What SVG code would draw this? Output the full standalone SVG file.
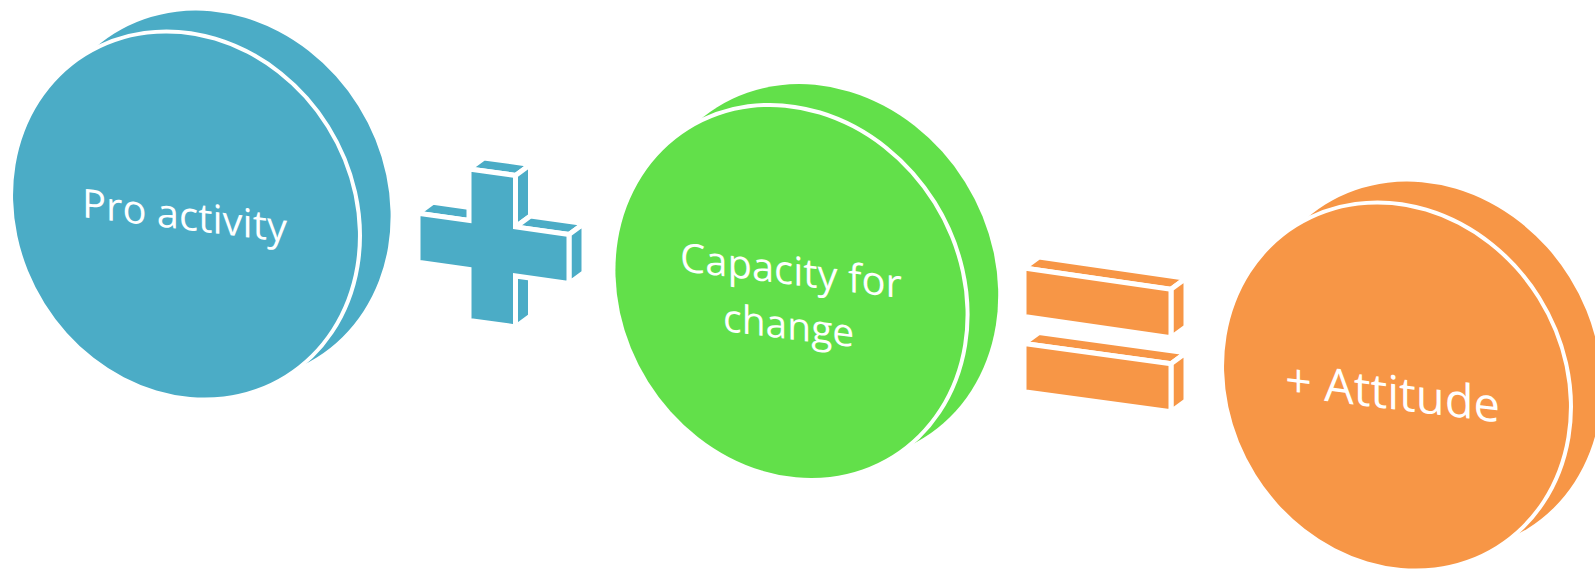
<svg xmlns="http://www.w3.org/2000/svg" width="1595" height="572" viewBox="0 0 1595 572">
<style>
.blue{fill:#4BACC6}
.green{fill:#62E04A}
.orange{fill:#F79646}
.front{stroke:#FFFFFF;stroke-width:8;paint-order:stroke}
.face{stroke:#FFFFFF;stroke-width:5;stroke-linejoin:miter}
.label{font-family:"Open Sans","Noto Sans","Liberation Sans",sans-serif;font-style:normal;font-weight:400;fill:#FFFFFF}
</style>
<rect width="1595" height="572" fill="#FFFFFF"/>
<g id="node-proactivity">
<ellipse class="blue" rx="191" ry="168.5" transform="translate(215.5,195.5) rotate(58)"/>
<ellipse class="blue front" rx="188" ry="166" transform="translate(185.5,215.5) rotate(58)"/>
<text class="label" x="0" y="0" font-size="40" transform="translate(82 217) skewY(7)">Pro activity</text>
</g>
<g id="op-plus" class="blue">
<polygon class="face" points="418,213.2 469,220.4 484,209.4 433,202.2"/>
<polygon class="face" points="469,168.9 515.5,175.4 530.5,164.4 484,157.9"/>
<polygon class="face" points="515.5,175.4 515.5,226.9 530.5,215.9 530.5,164.4"/>
<polygon class="face" points="515.5,226.9 569,234.4 584,223.4 530.5,215.9"/>
<polygon class="face" points="569,234.4 569,283.4 584,272.4 584,223.4"/>
<polygon class="face" points="515.5,275.9 515.5,326.9 530.5,315.9 530.5,264.9"/>
<polygon class="face" points="418,213.2 469,220.4 469,168.9 515.5,175.4 515.5,226.9 569,234.4 569,283.4 515.5,275.9 515.5,326.9 469,320.4 469,269.4 418,262.2"/>
</g>
<g id="node-capacity">
<ellipse class="green" rx="195" ry="170.5" transform="translate(820.5,272.5) rotate(58)"/>
<ellipse class="green front" rx="192" ry="168" transform="translate(790.5,292.5) rotate(58)"/>
<text class="label" x="0" y="0" font-size="40" transform="translate(680 271) skewY(7)">Capacity for</text>
<text class="label" x="0" y="0" font-size="39" transform="translate(723 331) skewY(7)">change</text>
</g>
<g id="op-equals" class="orange">
<polygon class="face" points="1024,268 1171,289.3 1186,278.3 1039,257"/>
<polygon class="face" points="1171,289.3 1171,337.8 1186,326.8 1186,278.3"/>
<polygon class="face" points="1024,268 1171,289.3 1171,337.8 1024,316.5"/>
<polygon class="face" points="1024,343.5 1171,363.8 1186,352.8 1039,332.5"/>
<polygon class="face" points="1171,363.8 1171,411.8 1186,400.8 1186,352.8"/>
<polygon class="face" points="1024,343.5 1171,363.8 1171,411.8 1024,391.8"/>
</g>
<g id="node-attitude">
<ellipse class="orange" rx="191" ry="168.5" transform="translate(1426.5,366.5) rotate(58)"/>
<ellipse class="orange front" rx="188" ry="166" transform="translate(1396.5,386.5) rotate(58)"/>
<text class="label" x="0" y="0" font-size="47" transform="translate(1285 396) skewY(7)">+ Attitude</text>
</g>
<g id="connectors"/>
</svg>
